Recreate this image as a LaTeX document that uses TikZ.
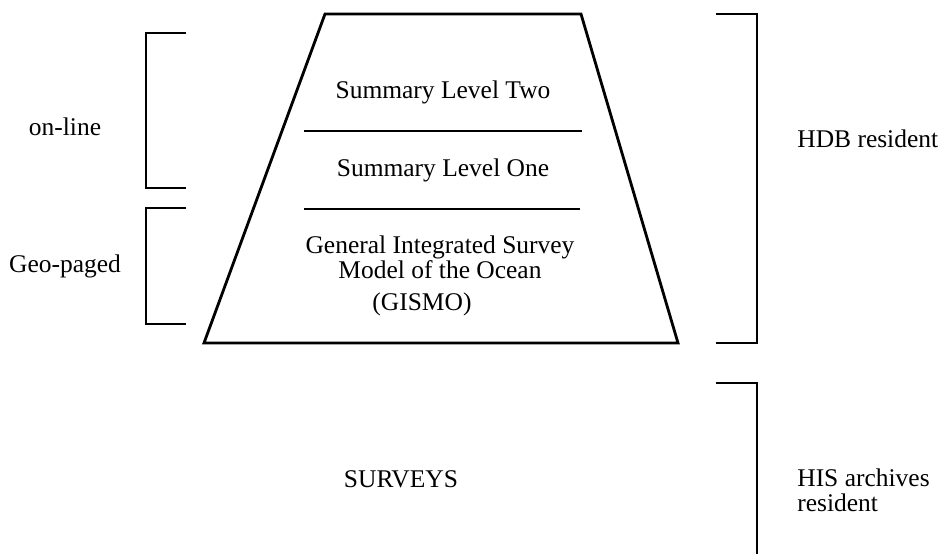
\documentclass[tikz,border=0pt]{standalone}
\usepackage{fontspec}
\setmainfont{Liberation Serif}
\usetikzlibrary{positioning}

\tikzset{
	lbl/.style={inner sep=0pt, anchor=base, align=center, font=\fontsize{14.5}{14.2}\selectfont},
	brk/.style={line width=1.1pt},
	pyr/.style={line width=1.6pt, line join=miter}
}

\begin{document}
\begin{tikzpicture}
	\useasboundingbox (0,0) rectangle (18.84,-11.08);
	\draw[pyr] (6.50,-0.28) -- (11.62,-0.28) -- (13.56,-6.86) -- (4.08,-6.86) -- cycle;
	\draw[pyr] (6.08,-2.62) -- (11.64,-2.62);
	\draw[pyr] (6.08,-4.18) -- (11.60,-4.18);
	\node[lbl] (two) at (8.86,-1.96) {Summary Level Two};
	\node[lbl] (one) at (8.86,-3.52) {Summary Level One};
	\node[lbl] (gen) at (8.80,-5.56) {General Integrated Survey\\Model of the Ocean};
	\node[lbl] (gismo) at (8.44,-6.20) {(GISMO)};
	\node[lbl] (surveys) at (8.02,-9.74) {SURVEYS};
	% left brackets
	\draw[brk] (3.72,-0.66) -- (2.92,-0.66) -- (2.92,-3.76) -- (3.72,-3.76);
	\draw[brk] (3.72,-4.16) -- (2.92,-4.16) -- (2.92,-6.48) -- (3.72,-6.48);
	\node[lbl] (online) at (1.30,-2.70) {on-line};
	\node[lbl] (geo) at (1.30,-5.44) {Geo-paged};
	% right brackets
	\draw[brk] (14.32,-0.28) -- (15.14,-0.28) -- (15.14,-6.86) -- (14.32,-6.86);
	\draw[brk] (14.32,-7.66) -- (15.14,-7.66) -- (15.14,-11.08);
	\node[lbl, anchor=base west, align=left] (hdb) at (15.94,-2.94) {HDB resident};
	\node[lbl, anchor=base west, align=left] (his) at (15.94,-10.22) {HIS archives\\resident};
\end{tikzpicture}
\end{document}
